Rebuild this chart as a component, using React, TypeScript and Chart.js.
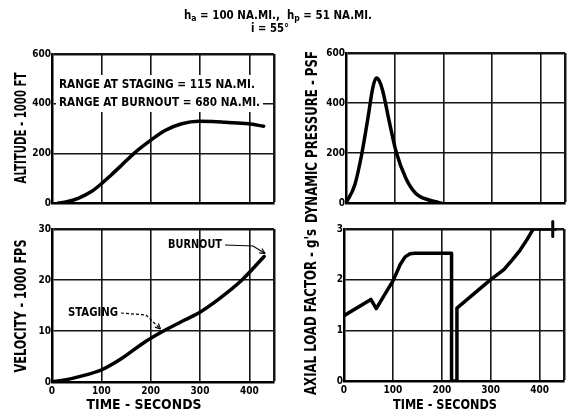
import React, { useEffect, useRef } from 'react';
import { Chart, registerables } from 'chart.js';

Chart.register(...registerables);

// ---------------- data ----------------
const TIME_MAX = 450;
const TIME_TICKS = [0, 100, 200, 300, 400];

const ALT_TIME = [13, 30, 53, 80, 101, 120, 141, 168, 195, 229, 263, 297, 325, 351, 398, 429];
const ALT_KFT = [0, 5, 19, 46, 79, 113, 152, 203, 245, 292, 319, 329, 328, 325, 319, 309];
const ALT_MAX = 600;
const ALT_STEP = 200;

const Q_TIME = [0, 18, 32, 45, 55, 62, 68, 75, 89, 103, 123, 143, 170, 184, 195];
const Q_PSF = [0, 72, 192, 339, 460, 500, 490, 452, 325, 205, 99, 39, 12, 5, 0];
const Q_MAX = 600;
const Q_STEP = 200;

const VEL_TIME = [0, 26, 53, 101, 141, 189, 226, 270, 300, 340, 385, 430];
const VEL_KFPS = [0, 0.4, 1.0, 2.4, 4.6, 7.9, 10.0, 12.2, 13.7, 16.4, 20.0, 24.6];
const VEL_MAX = 30;
const VEL_STEP = 10;

const G_TIME = [0, 55, 66, 101, 115, 125, 135, 145, 220, 220, 231, 231, 300, 327, 345, 360, 375, 387, 433];
const G_LOAD = [1.29, 1.61, 1.43, 1.99, 2.3, 2.45, 2.51, 2.52, 2.52, 0, 0, 1.44, 2.0, 2.2, 2.4, 2.58, 2.8, 3.0, 3.0];
const G_MARK_TIME = [427, 427];
const G_MARK_LOAD = [2.85, 3.15];
const G_MAX = 3;
const G_STEP = 1;

const STAGING_TIME = 226;
const BURNOUT_TIME = 430;

const HEADER_LINE_1 = [
  { t: 'h', sub: false },
  { t: 'a', sub: true },
  { t: ' = 100 NA.MI.,  h', sub: false },
  { t: 'p', sub: true },
  { t: ' = 51 NA.MI.', sub: false },
];
const HEADER_LINE_2 = 'i = 55°';
const RANGE_TEXT = ['RANGE AT STAGING = 115 NA.MI.', 'RANGE AT BURNOUT = 680 NA.MI.'];
const Y_TITLES = ['ALTITUDE - 1000 FT', 'DYNAMIC PRESSURE - PSF', 'VELOCITY - 1000 FPS', 'AXIAL LOAD FACTOR - g\'s'];
const X_TITLE = 'TIME - SECONDS';
const STAGING_LABEL = 'STAGING';
const BURNOUT_LABEL = 'BURNOUT';

// ---------------- styling ----------------
const W = 567;
const H = 415;
const FONT = "'DejaVu Sans Condensed', 'Liberation Sans Narrow', 'DejaVu Sans', sans-serif";
const INK = '#000';

type Seg = { t: string; size: number; dy?: number };

function drawFit(
  ctx: CanvasRenderingContext2D,
  segs: Seg[],
  x: number,
  y: number,
  width: number,
  rot = 0,
  align: 'center' | 'left' = 'center'
) {
  ctx.save();
  let total = 0;
  const ws = segs.map((s) => {
    ctx.font = `bold ${s.size}px ${FONT}`;
    const w = ctx.measureText(s.t).width;
    total += w;
    return w;
  });
  const sx = width / total;
  ctx.translate(x, y);
  ctx.rotate(rot);
  ctx.scale(sx, 1);
  ctx.fillStyle = INK;
  ctx.textBaseline = 'middle';
  ctx.textAlign = 'left';
  let cx = align === 'center' ? -total / 2 : 0;
  segs.forEach((s, i) => {
    ctx.font = `bold ${s.size}px ${FONT}`;
    ctx.fillText(s.t, cx, s.dy ?? 0);
    cx += ws[i];
  });
  ctx.restore();
}

function pts(xs: number[], ys: number[]) {
  return xs.map((x, i) => ({ x, y: ys[i] }));
}

type PanelDef = {
  padLeft: number;
  left: number;
  right: number;
  top: number;
  bottom: number;
  yMax: number;
  yStep: number;
  showX: boolean;
  datasets: any[];
  draw: (chart: any) => void;
};

function lineDs(xs: number[], ys: number[], smooth: boolean, extra: any = {}) {
  return {
    data: pts(xs, ys),
    borderColor: INK,
    borderWidth: 3.5,
    pointRadius: 0,
    fill: false,
    cubicInterpolationMode: smooth ? 'monotone' : 'default',
    tension: 0,
    borderCapStyle: 'round',
    borderJoinStyle: 'round',
    ...extra,
  };
}

function makeChart(canvas: HTMLCanvasElement, d: PanelDef) {
  const tickFont = { family: FONT, size: 10, weight: 'bold' as const };
  const gridStyle = (max: number) => ({
    color: '#151515',
    lineWidth: (c: any) => (c.tick && c.tick.value === max ? 2.5 : 1.6),
    drawTicks: false,
  });
  return new Chart(canvas, {
    type: 'line',
    data: { datasets: d.datasets },
    options: {
      responsive: false,
      maintainAspectRatio: false,
      animation: false,
      events: [],
      layout: {
        padding: {
          left: d.padLeft,
          right: W - d.right,
          top: d.top,
          bottom: d.showX ? 0 : H - d.bottom,
        },
      },
      plugins: { legend: { display: false }, tooltip: { enabled: false }, title: { display: false } },
      scales: {
        x: {
          type: 'linear',
          min: 0,
          max: TIME_MAX,
          afterBuildTicks: (s: any) => {
            s.ticks = [...TIME_TICKS, TIME_MAX].map((v) => ({ value: v }));
          },
          ticks: {
            display: d.showX,
            color: INK,
            font: tickFont,
            padding: 3,
            maxRotation: 0,
            autoSkip: false,
            callback: (v: any) => (v === TIME_MAX ? '' : String(v)),
          },
          grid: gridStyle(TIME_MAX),
          border: { display: true, color: INK, width: 2.5 },
          afterFit: (s: any) => {
            s.height = d.showX ? H - d.bottom : 0;
          },
        },
        y: {
          type: 'linear',
          min: 0,
          max: d.yMax,
          ticks: {
            stepSize: d.yStep,
            color: INK,
            font: tickFont,
            padding: 1,
          },
          grid: gridStyle(d.yMax),
          border: { display: true, color: INK, width: 2.5 },
          afterFit: (s: any) => {
            s.width = d.left - d.padLeft;
          },
        },
      },
    } as any,
    plugins: [{ id: 'annot', afterDatasetsDraw: (c: any) => d.draw(c) }],
  });
}

function arrowHead(ctx: CanvasRenderingContext2D, fx: number, fy: number, tx: number, ty: number) {
  const a = Math.atan2(ty - fy, tx - fx);
  const L = 6;
  ctx.beginPath();
  ctx.moveTo(tx, ty);
  ctx.lineTo(tx - L * Math.cos(a - 0.45), ty - L * Math.sin(a - 0.45));
  ctx.moveTo(tx, ty);
  ctx.lineTo(tx - L * Math.cos(a + 0.45), ty - L * Math.sin(a + 0.45));
  ctx.stroke();
}

function valueAt(xs: number[], ys: number[], t: number) {
  const i = xs.indexOf(t);
  return ys[i];
}

const PANELS: PanelDef[] = [
  {
    padLeft: 0,
    left: 52,
    right: 274,
    top: 54,
    bottom: 203,
    yMax: ALT_MAX,
    yStep: ALT_STEP,
    showX: false,
    datasets: [lineDs(ALT_TIME, ALT_KFT, true)],
    draw: (chart) => {
      const ctx = chart.ctx as CanvasRenderingContext2D;
      drawFit(ctx, HEADER_LINE_1.map((s) => ({ t: s.t, size: s.sub ? 9 : 12, dy: s.sub ? 3 : 0 })), 278, 16, 188);
      drawFit(ctx, [{ t: HEADER_LINE_2, size: 12 }], 270, 29, 38);
      drawFit(ctx, [{ t: Y_TITLES[0], size: 15 }], 22, 128, 111, -Math.PI / 2);
      ctx.save();
      ctx.fillStyle = '#fff';
      ctx.fillRect(56, 75, 207, 37);
      ctx.restore();
      drawFit(ctx, [{ t: RANGE_TEXT[0], size: 13 }], 59, 85, 196, 0, 'left');
      drawFit(ctx, [{ t: RANGE_TEXT[1], size: 13 }], 59, 103, 201, 0, 'left');
    },
  },
  {
    padLeft: 290,
    left: 346,
    right: 565,
    top: 53,
    bottom: 203,
    yMax: Q_MAX,
    yStep: Q_STEP,
    showX: false,
    datasets: [lineDs(Q_TIME, Q_PSF, true)],
    draw: (chart) => {
      const ctx = chart.ctx as CanvasRenderingContext2D;
      drawFit(ctx, [{ t: Y_TITLES[1], size: 15 }], 313, 137, 172, -Math.PI / 2);
    },
  },
  {
    padLeft: 0,
    left: 52,
    right: 274,
    top: 229,
    bottom: 382,
    yMax: VEL_MAX,
    yStep: VEL_STEP,
    showX: true,
    datasets: [lineDs(VEL_TIME, VEL_KFPS, true)],
    draw: (chart) => {
      const ctx = chart.ctx as CanvasRenderingContext2D;
      const xs = chart.scales.x;
      const ys = chart.scales.y;
      drawFit(ctx, [{ t: Y_TITLES[2], size: 15 }], 22, 306, 133, -Math.PI / 2);
      drawFit(ctx, [{ t: X_TITLE, size: 14 }], 144, 405, 115);
      // staging
      drawFit(ctx, [{ t: STAGING_LABEL, size: 12 }], 68, 313, 50, 0, 'left');
      const sx = xs.getPixelForValue(STAGING_TIME);
      const sy = ys.getPixelForValue(valueAt(VEL_TIME, VEL_KFPS, STAGING_TIME));
      ctx.save();
      ctx.strokeStyle = INK;
      ctx.lineWidth = 1.2;
      ctx.setLineDash([3, 2]);
      ctx.beginPath();
      ctx.moveTo(121, 313);
      ctx.lineTo(146, 315);
      ctx.lineTo(sx - 3, sy - 2);
      ctx.stroke();
      ctx.setLineDash([]);
      arrowHead(ctx, 146, 315, sx - 3, sy - 2);
      // burnout
      drawFit(ctx, [{ t: BURNOUT_LABEL, size: 12 }], 168, 245, 54, 0, 'left');
      const bx = xs.getPixelForValue(BURNOUT_TIME);
      const by = ys.getPixelForValue(valueAt(VEL_TIME, VEL_KFPS, BURNOUT_TIME));
      ctx.beginPath();
      ctx.moveTo(225, 245);
      ctx.lineTo(253, 246);
      ctx.lineTo(bx + 1, by - 3);
      ctx.stroke();
      arrowHead(ctx, 253, 246, bx + 1, by - 3);
      ctx.restore();
    },
  },
  {
    padLeft: 290,
    left: 344,
    right: 565,
    top: 229,
    bottom: 381,
    yMax: G_MAX,
    yStep: G_STEP,
    showX: true,
    datasets: [
      lineDs(G_TIME, G_LOAD, false),
      lineDs(G_MARK_TIME, G_MARK_LOAD, false, { clip: false, borderWidth: 3 }),
    ],
    draw: (chart) => {
      const ctx = chart.ctx as CanvasRenderingContext2D;
      drawFit(ctx, [{ t: Y_TITLES[3], size: 15 }], 312, 312, 166, -Math.PI / 2);
      drawFit(ctx, [{ t: X_TITLE, size: 14 }], 445, 405, 104);
    },
  },
];

function Panel({ def }: { def: PanelDef }) {
  const ref = useRef<HTMLCanvasElement | null>(null);
  useEffect(() => {
    if (!ref.current) return;
    const chart = makeChart(ref.current, def);
    return () => chart.destroy();
  }, [def]);
  return (
    <canvas
      ref={ref}
      width={W}
      height={H}
      style={{ position: 'absolute', left: 0, top: 0, width: W, height: H }}
    />
  );
}

export default function App() {
  return (
    <div style={{ position: 'absolute', left: 0, top: 0, width: W, height: H, background: '#fff', overflow: 'hidden' }}>
      {PANELS.map((p, i) => (
        <Panel key={i} def={p} />
      ))}
    </div>
  );
}
